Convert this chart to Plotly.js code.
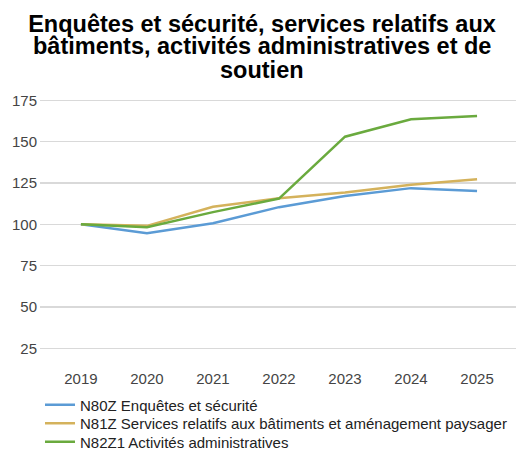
<!DOCTYPE html>
<html><head><meta charset="utf-8">
<script src="https://cdn.plot.ly/plotly-3.0.1.min.js"></script>
<style>html,body{margin:0;padding:0;background:#fff}#c{width:516px;height:456px}</style>
</head><body><div id="c"></div>
<script>
const years = ["2019","2020","2021","2022","2023","2024","2025"];
const seriesNames = ["N80Z Enquêtes et sécurité","N81Z Services relatifs aux bâtiments et aménagement paysager","N82Z1 Activités administratives"];
const n80z = [100, 94.7, 100.7, 110.4, 117.2, 121.9, 120.2];
const n81z = [100, 99.1, 110.6, 115.8, 119.2, 124.0, 127.3];
const n82z1 = [100, 98.3, 107.4, 115.6, 153.0, 163.5, 165.5];
const colors = ["#5b9bd5", "#d4b25c", "#6aaa3e"];
const yTicks = [25, 50, 75, 100, 125, 150, 175];
const titleLines = ["Enquêtes et sécurité, services relatifs aux", "bâtiments, activités administratives et de", "soutien"];

const legendIds = ["legend", "legend2", "legend3"];
const legendCenters = [405, 423.5, 442];
const titleCenters = [23.5, 46.5, 69.5];

const data = [n80z, n81z, n82z1].map((v, i) => ({
  x: years, y: v, type: "scatter", mode: "lines", name: seriesNames[i],
  legend: legendIds[i],
  line: {color: colors[i], width: 2.5}, hoverinfo: "skip"
}));

const H = 456, T = 92, B = 91;
const plotH = H - T - B;
const toPaperY = py => (H - B - py) / plotH;

const layout = {
  width: 516, height: H,
  margin: {l: 40, r: 0, t: T, b: B, autoexpand: false},
  paper_bgcolor: "#fff", plot_bgcolor: "#fff",
  font: {family: "Liberation Sans, Arial, sans-serif", color: "#444", size: 15},
  title: {text: "<b>" + titleLines[0] + "</b>",
    font: {size: 23.5, color: "#000", family: "Liberation Sans, Arial, sans-serif"},
    xref: "container", x: 262 / 516, xanchor: "center", yref: "container", y: 1 - titleCenters[0] / H, yanchor: "middle"},
  annotations: titleLines.slice(1).map((t, k) => ({
    text: "<b>" + t + "</b>", xref: "paper", yref: "paper", x: (262 - 40) / 476, y: toPaperY(titleCenters[k + 1]),
    xanchor: "center", yanchor: "middle", showarrow: false,
    font: {size: 23.5, color: "#000", family: "Liberation Sans, Arial, sans-serif"}
  })),
  xaxis: {type: "category", range: [-0.62, 6.59], showgrid: false, zeroline: false, showline: false,
    ticks: "", ticklabelstandoff: 3, tickfont: {size: 15, color: "#444"}, fixedrange: true},
  yaxis: {range: [15, 180], tickvals: yTicks, showgrid: true, gridcolor: "#d9d9d9", gridwidth: 1.3,
    zeroline: false, showline: false, ticks: "", ticklabelstandoff: 2, tickfont: {size: 15, color: "#444"}, fixedrange: true},
  showlegend: true
};
legendIds.forEach((id, i) => {
  layout[id] = {orientation: "v", x: 0.0, xanchor: "left", xref: "paper", yref: "container",
    y: 1 - legendCenters[i] / H, yanchor: "middle",
    font: {size: 15, color: "#222"}, itemwidth: 30, bgcolor: "rgba(0,0,0,0)"};
});
Plotly.newPlot("c", data, layout, {displayModeBar: false, staticPlot: true});
</script></body></html>
